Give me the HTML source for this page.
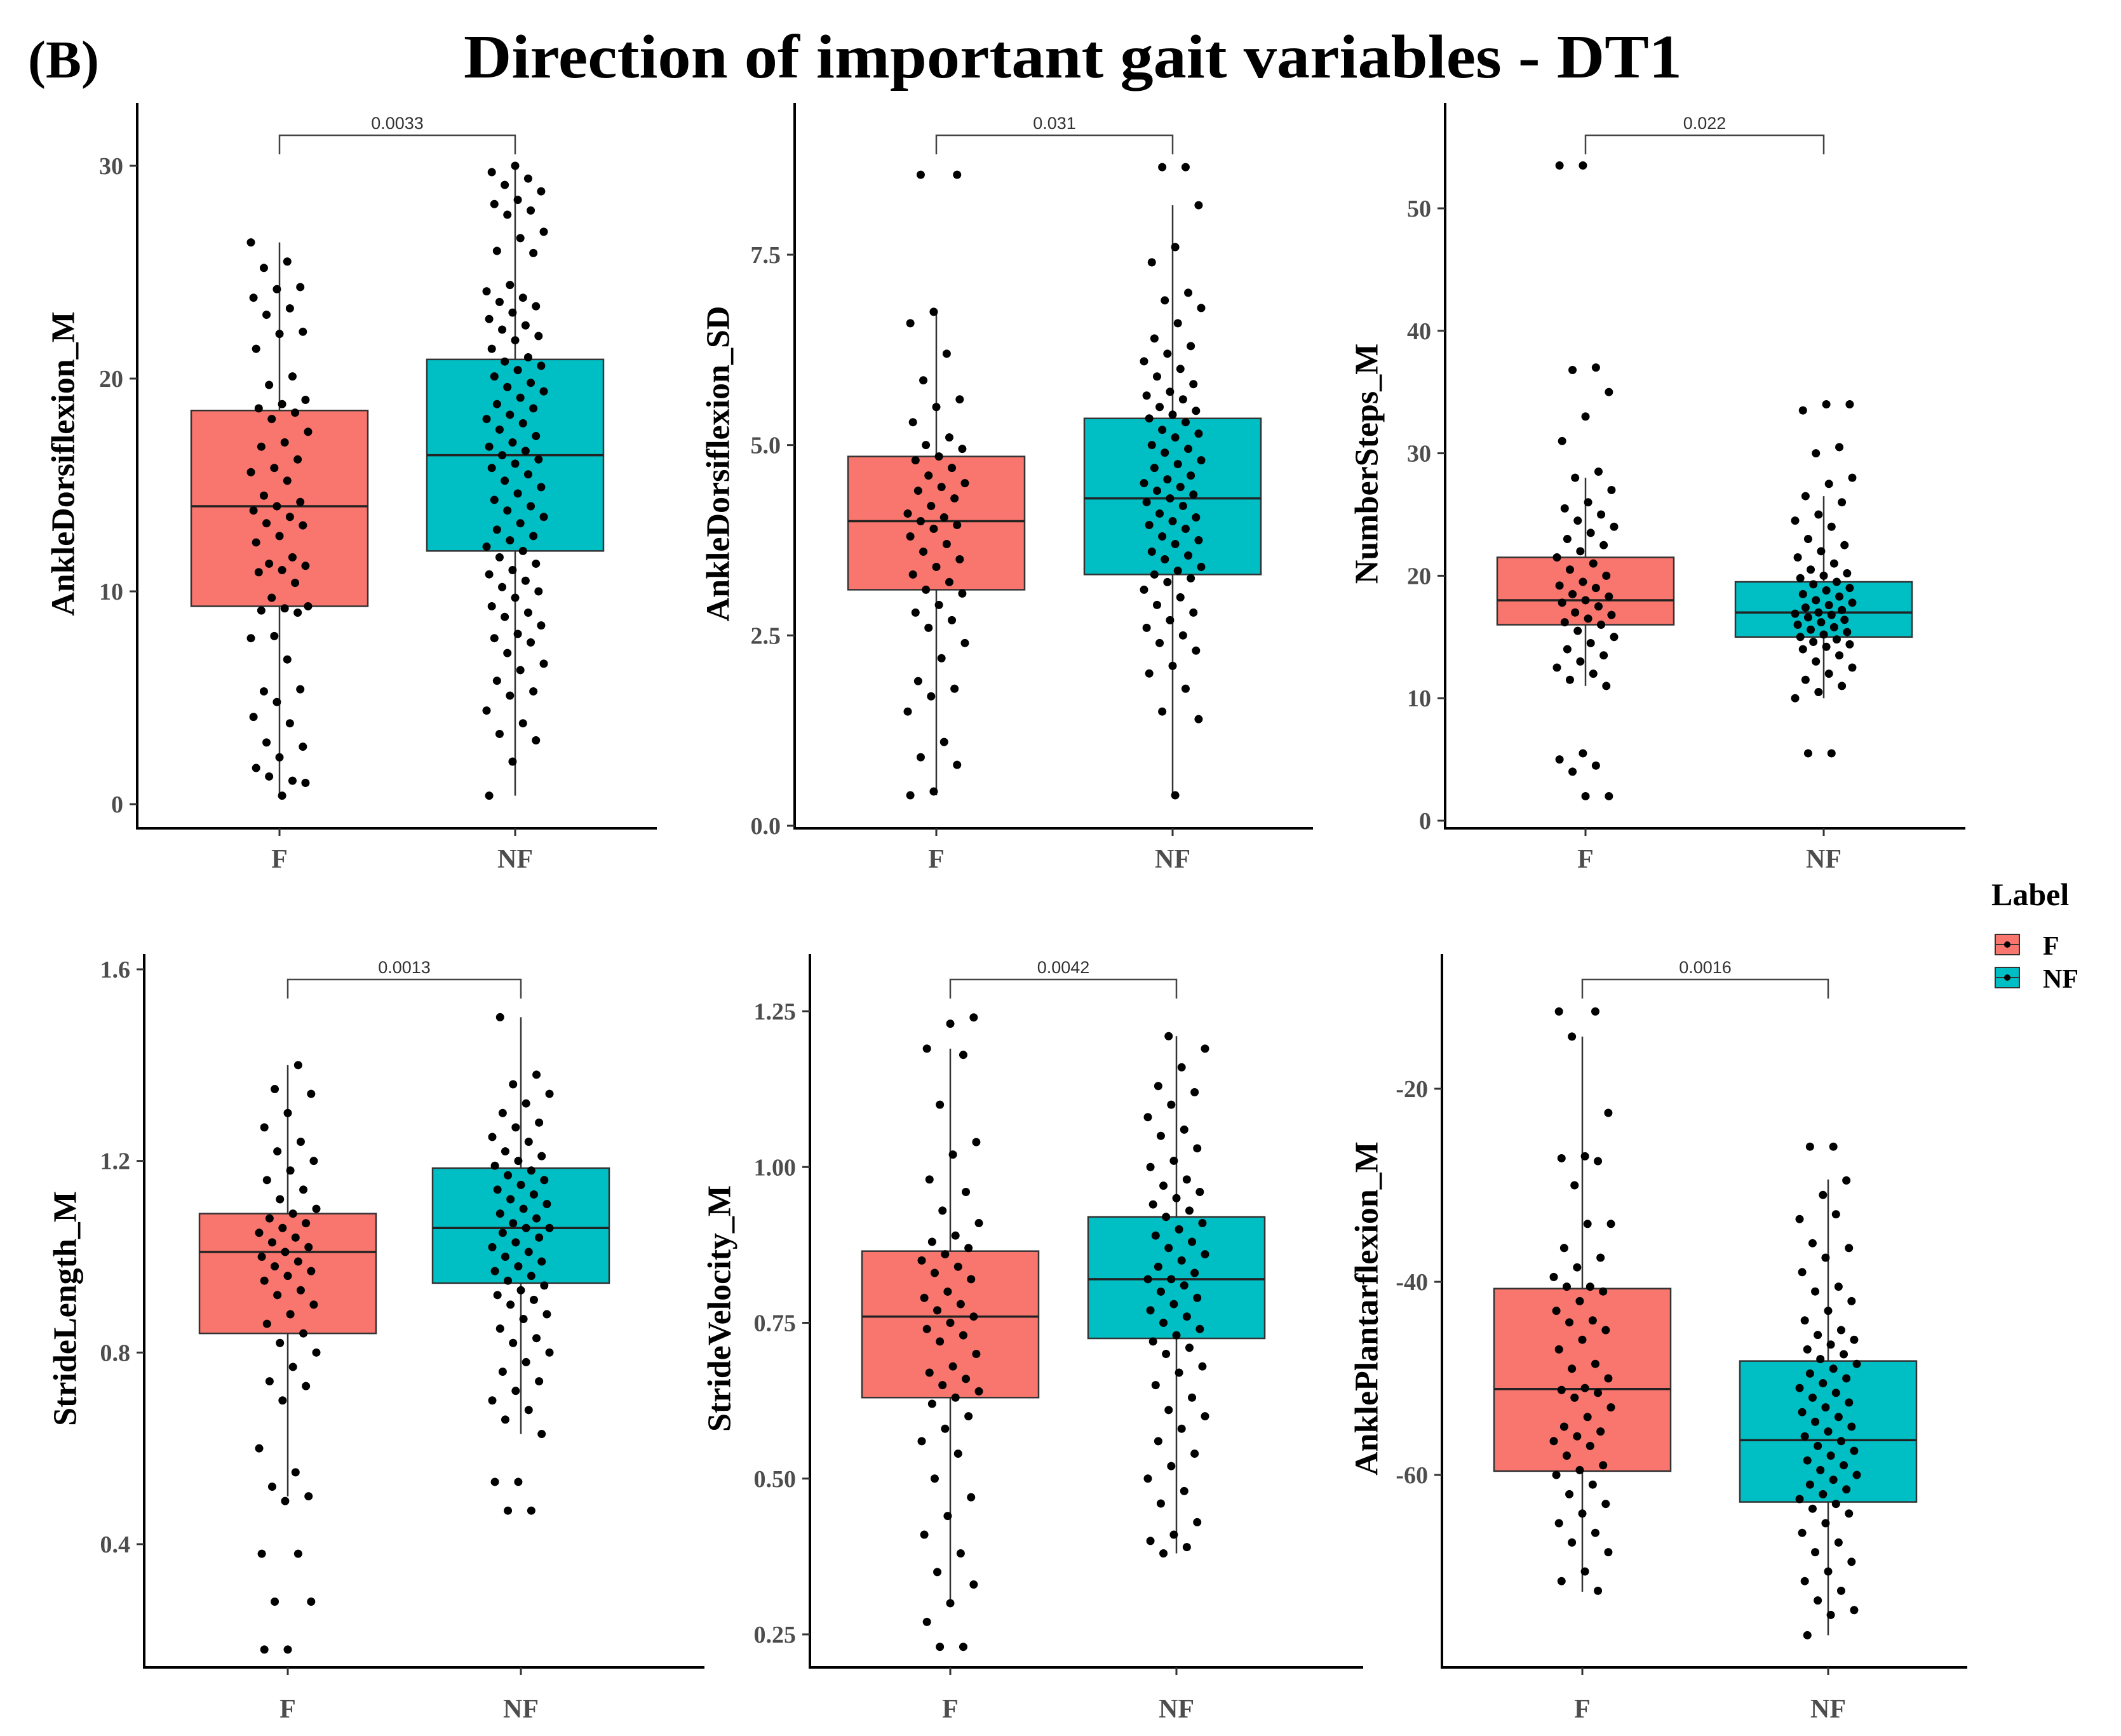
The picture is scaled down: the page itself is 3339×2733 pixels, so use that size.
<!DOCTYPE html>
<html><head><meta charset="utf-8"><style>
html,body{margin:0;padding:0;background:#fff;}
svg{display:block;}
</style></head><body>
<svg id="fig" xmlns="http://www.w3.org/2000/svg" width="3339" height="2733" viewBox="0 0 3339 2733">
<rect width="3339" height="2733" fill="#fff"/>
<text x="44" y="122" font-family="Liberation Serif, serif" font-weight="bold" font-size="84">(B)</text>
<text x="1689" y="122" text-anchor="middle" font-family="Liberation Serif, serif" font-weight="bold" font-size="98" textLength="1918" lengthAdjust="spacingAndGlyphs">Direction of important gait variables - DT1</text>
<g id="plots"></g>
<g transform="translate(-20,0)">
<text x="3155" y="1425" font-family="Liberation Serif, serif" font-weight="bold" font-size="50">Label</text>
<g>
<rect x="3161" y="1471" width="38" height="32" fill="#F8766D" stroke="#333" stroke-width="2"/>
<line x1="3161" y1="1487" x2="3199" y2="1487" stroke="#333" stroke-width="2"/>
<circle cx="3180" cy="1487" r="5" fill="#000"/>
<text x="3236" y="1503" font-family="Liberation Serif, serif" font-weight="bold" font-size="42">F</text>
</g>
<g>
<rect x="3161" y="1523" width="38" height="32" fill="#00BFC4" stroke="#333" stroke-width="2"/>
<line x1="3161" y1="1539" x2="3199" y2="1539" stroke="#333" stroke-width="2"/>
<circle cx="3180" cy="1539" r="5" fill="#000"/>
<text x="3236" y="1555" font-family="Liberation Serif, serif" font-weight="bold" font-size="42">NF</text>
</g>
</g>
</svg>
<script>
// ---- data ----
var groups = ["F","NF"];
var varNames = ["AnkleDorsiflexion_M","AnkleDorsiflexion_SD","NumberSteps_M","StrideLength_M","StrideVelocity_M","AnklePlantarflexion_M"];
var pValues = ["0.0033","0.031","0.022","0.0013","0.0042","0.0016"];
var tickValues = [[0,10,20,30],[0,2.5,5,7.5],[0,10,20,30,40,50],[0.4,0.8,1.2,1.6],[0.25,0.5,0.75,1.0,1.25],[-60,-40,-20]];
var tickLabels = [["0","10","20","30"],["0.0","2.5","5.0","7.5"],["0","10","20","30","40","50"],["0.4","0.8","1.2","1.6"],["0.25","0.50","0.75","1.00","1.25"],["-60","-40","-20"]];
// box stats: [whiskerLow, q1, median, q3, whiskerHigh]
var statsF = [[0.4,9.3,14,18.5,26.4],[0.4,3.1,4.0,4.85,6.75],[11,16,18,21.5,28],[0.5,0.84,1.01,1.09,1.4],[0.3,0.63,0.76,0.865,1.19],[-72.1,-59.6,-51.1,-40.7,-14.6]];
var statsNF = [[0.4,11.9,16.4,20.9,30],[0.4,3.3,4.3,5.35,8.15],[10,15,17,19.5,26.5],[0.63,0.945,1.06,1.185,1.5],[0.38,0.725,0.82,0.92,1.21],[-76.6,-62.8,-56.4,-48.2,-29.4]];
var pointsF0 = [26.4,25.5,25.2,24.3,24.2,23.8,23.3,23,22.2,22.1,21.4,20.1,19.7,19,18.8,18.6,18.4,18.1,17.5,17,16.8,16.2,15.8,15.6,15.2,14.5,14.2,14,13.8,13.5,13.2,13.1,12.6,12.3,11.6,11.3,11.2,11,10.9,10.4,9.7,9.3,9.2,9.1,9.0,7.9,7.8,6.8,5.3,5.4,4.8,4.1,3.8,2.9,2.7,2.2,1.7,1.1,1.3,1.0,0.4];
var pointsNF0 = [30,29.7,29.4,29.1,28.8,28.4,28.2,27.9,27.7,26.9,26.6,26,25.9,24.4,24.1,23.8,23.6,23.4,23.1,22.8,22.5,22.3,22,21.8,21.4,21,20.8,20.6,20.4,20.1,19.8,19.6,19.4,19.1,18.8,18.6,18.3,18.1,17.9,17.6,17.3,17,16.8,16.6,16.4,16.2,16,15.8,15.5,15.2,14.9,14.6,14.3,14,13.8,13.5,13.2,12.9,12.6,12.4,12.1,11.9,11.6,11.3,11,10.8,10.5,10.2,10,9.7,9.3,9,8.8,8.4,8,7.8,7.6,7.1,6.6,6.3,5.8,5.3,5.1,4.4,3.8,3.3,3,2,0.4];
var pointsF1 = [8.55,8.55,6.75,6.6,6.2,5.85,5.6,5.5,5.3,5.1,5.0,4.95,4.85,4.8,4.7,4.6,4.5,4.45,4.4,4.3,4.2,4.1,4.05,4.0,3.95,3.9,3.8,3.7,3.6,3.5,3.4,3.3,3.2,3.1,3.05,2.9,2.8,2.7,2.6,2.4,2.2,1.9,1.8,1.7,1.5,1.1,0.9,0.8,0.45,0.4];
var pointsNF1 = [8.65,8.65,8.15,7.6,7.4,7.0,6.9,6.8,6.6,6.4,6.3,6.2,6.1,6.0,5.9,5.8,5.7,5.65,5.6,5.5,5.45,5.4,5.35,5.3,5.2,5.15,5.1,5.0,4.95,4.9,4.8,4.75,4.7,4.6,4.55,4.5,4.45,4.4,4.35,4.3,4.25,4.2,4.1,4.05,4.0,3.95,3.9,3.8,3.75,3.7,3.6,3.55,3.5,3.4,3.35,3.3,3.25,3.2,3.1,3.0,2.9,2.8,2.7,2.6,2.5,2.4,2.3,2.1,2.0,1.8,1.5,1.4,0.4];
var pointsF2 = [53.5,53.5,37,36.8,35,33,31,28.5,28,27,26,25.5,25,24.5,24,23.5,23,22.5,22,21.5,21,20.5,20,19.5,19.2,19,18.5,18.3,18,17.8,17.5,17,16.8,16.5,16.2,16,15.5,15,14.5,14,13.5,13,12.5,12,11.5,11,5.5,5,4.5,4,2,2];
var pointsNF2 = [34,34,33.5,30.5,30,28,27.5,26.5,26,25,24.5,24,23,22.5,22,21.5,21,20.5,20.2,20,19.8,19.5,19.3,19,18.8,18.5,18.3,18,17.8,17.6,17.4,17.2,17,16.9,16.8,16.6,16.4,16.2,16,15.8,15.6,15.4,15.2,15,14.8,14.6,14.4,14.2,14,13.5,13,12.5,12,11.5,11,10.5,10,5.5,5.5];
var pointsF3 = [1.4,1.35,1.34,1.3,1.27,1.24,1.22,1.2,1.18,1.16,1.14,1.12,1.1,1.09,1.08,1.07,1.06,1.05,1.04,1.03,1.02,1.01,1.0,0.99,0.98,0.97,0.96,0.95,0.93,0.92,0.9,0.88,0.86,0.84,0.82,0.8,0.77,0.74,0.73,0.7,0.6,0.55,0.52,0.5,0.49,0.38,0.38,0.28,0.28,0.18,0.18];
var pointsNF3 = [1.5,1.38,1.36,1.34,1.32,1.3,1.28,1.27,1.25,1.24,1.22,1.21,1.2,1.19,1.18,1.17,1.16,1.15,1.14,1.13,1.12,1.11,1.1,1.09,1.08,1.07,1.06,1.06,1.05,1.04,1.03,1.02,1.01,1.0,0.99,0.98,0.97,0.96,0.95,0.94,0.93,0.92,0.91,0.9,0.88,0.87,0.85,0.83,0.82,0.8,0.78,0.76,0.74,0.72,0.7,0.68,0.66,0.63,0.53,0.53,0.47,0.47];
var pointsF4 = [1.24,1.23,1.19,1.18,1.1,1.04,1.02,0.98,0.96,0.93,0.91,0.89,0.88,0.87,0.86,0.85,0.84,0.83,0.82,0.8,0.79,0.78,0.77,0.76,0.75,0.74,0.73,0.72,0.7,0.68,0.67,0.66,0.65,0.64,0.63,0.62,0.6,0.58,0.56,0.54,0.5,0.47,0.44,0.41,0.38,0.35,0.33,0.3,0.27,0.23,0.23];
var pointsNF4 = [1.21,1.19,1.16,1.13,1.12,1.1,1.08,1.06,1.05,1.03,1.01,1.0,0.98,0.97,0.96,0.95,0.94,0.93,0.92,0.91,0.9,0.89,0.88,0.87,0.86,0.85,0.84,0.83,0.82,0.82,0.81,0.8,0.79,0.78,0.77,0.76,0.75,0.74,0.73,0.72,0.71,0.7,0.68,0.67,0.65,0.63,0.61,0.6,0.58,0.56,0.54,0.52,0.5,0.48,0.46,0.43,0.41,0.4,0.39,0.38];
var pointsF5 = [-12,-12,-14.6,-22.5,-27,-27.2,-27.5,-30,-34,-34,-36.5,-37.5,-38.5,-39.5,-40.5,-40.5,-41,-42,-43,-44,-44.2,-45,-46,-47,-48.5,-49,-50,-51,-51.2,-51.5,-52,-53,-54,-55,-55.5,-56,-56.5,-57,-58,-59,-59.5,-60,-61,-62,-63,-64,-65,-66,-67,-68,-70,-71,-72];
var pointsNF5 = [-26,-26,-29.5,-31,-33.5,-33,-36,-36.5,-37.5,-39,-40.5,-41,-42,-43,-44,-45,-45.5,-46,-46.5,-47,-47.5,-48,-48.5,-49,-49.5,-50,-50.5,-51,-51.5,-52,-52.5,-53,-53.5,-54,-54.5,-55,-55.5,-56,-56.5,-57,-57.5,-58,-58.5,-59,-59.5,-60,-60.5,-61,-61.5,-62,-62.5,-63,-63.5,-64,-65,-66,-67,-68,-69,-70,-71,-72,-73,-74,-74.5,-76.6];
var pointsF = [pointsF0,pointsF1,pointsF2,pointsF3,pointsF4,pointsF5];
var pointsNF = [pointsNF0,pointsNF1,pointsNF2,pointsNF3,pointsNF4,pointsNF5];

// ---- layout (pixels) ----
var layout = [
 {ax:216, right:1034, top:162, bottom:1304, xs:[440,811], v0:0, p0:1266, v1:30, p1:261, by:213, tx:100, ty:730, lx:1366},
 {ax:1251, right:2067, top:162, bottom:1304, xs:[1474,1846], v0:0, p0:1300, v1:7.5, p1:401, by:213, tx:1131, ty:730, lx:1366},
 {ax:2275, right:3094, top:162, bottom:1304, xs:[2496,2871], v0:0, p0:1292, v1:50, p1:328, by:213, tx:2152, ty:730, lx:1366},
 {ax:227, right:1109, top:1502, bottom:2625, xs:[453,820], v0:0.4, p0:2431, v1:1.6, p1:1526, by:1542, tx:103, ty:2060, lx:2704},
 {ax:1275, right:2146, top:1502, bottom:2625, xs:[1496,1852], v0:0.25, p0:2573, v1:1.25, p1:1592, by:1542, tx:1133, ty:2060, lx:2704},
 {ax:2270, right:3097, top:1502, bottom:2625, xs:[2491,2878], v0:-60, p0:2322, v1:-20, p1:1714, by:1542, tx:2152, ty:2060, lx:2704}
];
var NS = "http://www.w3.org/2000/svg";
var colors = ["#F8766D","#00BFC4"];
var root = document.getElementById("plots");
function mk(tag, attrs, parent){
  var e = document.createElementNS(NS, tag);
  for (var k in attrs) e.setAttribute(k, attrs[k]);
  parent.appendChild(e); return e;
}
for (var p=0;p<6;p++){
  var L = layout[p];
  var yS = (function(L){ return function(v){ return L.p0 + (v - L.v0) * (L.p1 - L.p0) / (L.v1 - L.v0); }; })(L);
  var g = mk("g", {}, root);
  
  
  var ya = mk("line", {x1:L.ax, y1:L.top, x2:L.ax, y2:L.bottom, stroke:"#000", "stroke-width":4}, g);
  
  
  var xa = mk("line", {x1:L.ax-2, y1:L.bottom, x2:L.right, y2:L.bottom, stroke:"#000", "stroke-width":4}, g);
  
  
  for (var t=0;t<tickValues[p].length;t++){
    var ty = yS(tickValues[p][t]);
    mk("line", {x1:L.ax-12, y1:ty, x2:L.ax, y2:ty, stroke:"#333", "stroke-width":3}, g);
    var tl = mk("text", {x:L.ax-22, y:ty+13, "text-anchor":"end", "font-family":"Liberation Serif, serif", "font-weight":"bold", "font-size":38, fill:"#4d4d4d"}, g);
    tl.textContent = tickLabels[p][t];
    
    
  }
  var yt = mk("text", {x:L.tx, y:L.ty, transform:"rotate(-90 "+L.tx+" "+L.ty+")", "text-anchor":"middle", "dominant-baseline":"central", "font-family":"Liberation Serif, serif", "font-weight":"bold", "font-size":52, fill:"#000"}, g);
  yt.textContent = varNames[p];
  
  
  for (var gi=0;gi<2;gi++){
    var cx = L.xs[gi];
    var st = gi==0 ? statsF[p] : statsNF[p];
    var pts = gi==0 ? pointsF[p] : pointsNF[p];
    mk("line", {x1:cx, y1:L.bottom, x2:cx, y2:L.bottom+12, stroke:"#333", "stroke-width":3}, g);
    var xl = mk("text", {x:cx, y:L.lx, "text-anchor":"middle", "font-family":"Liberation Serif, serif", "font-weight":"bold", "font-size":42, fill:"#4d4d4d"}, g);
    xl.textContent = groups[gi];
    
    
    var wh = mk("line", {x1:cx, y1:yS(st[0]), x2:cx, y2:yS(st[4]), stroke:"#333", "stroke-width":2.5}, g);
    
    
    var bx = mk("rect", {x:cx-139, y:yS(st[3]), width:278, height:yS(st[1])-yS(st[3]), fill:colors[gi], stroke:"#333", "stroke-width":2.5}, g);
    
    
    var md = mk("line", {x1:cx-139, y1:yS(st[2]), x2:cx+139, y2:yS(st[2]), stroke:"#222", "stroke-width":3.5}, g);
    
    
    for (var i=0;i<pts.length;i++){
      var jit = (((i*37 + gi*11 + p*5) % 23) - 11) / 11 * 45;
      var c = mk("circle", {cx:cx+jit, cy:yS(pts[i]), r:6.5, fill:"#000"}, g);
      
      
    }
  }
  var br = mk("path", {d:"M"+L.xs[0]+" "+(L.by+30)+" V"+L.by+" H"+L.xs[1]+" V"+(L.by+30), fill:"none", stroke:"#444", "stroke-width":2.5}, g);
  
  
  var pv = mk("text", {x:(L.xs[0]+L.xs[1])/2, y:L.by-10, "text-anchor":"middle", "font-family":"Liberation Sans, sans-serif", "font-size":27, fill:"#333"}, g);
  pv.textContent = pValues[p];
  
  
}
</script>
</body></html>
